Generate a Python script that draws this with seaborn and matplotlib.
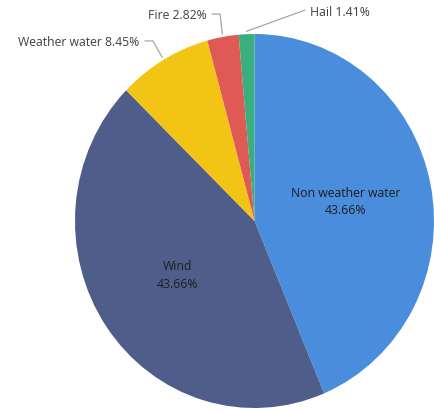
import matplotlib
matplotlib.use("Agg")
import matplotlib.pyplot as plt
import seaborn as sns
import numpy as np

# data (clockwise from 12 o'clock)
categories = ["Non weather water", "Wind", "Weather water", "Fire", "Hail"]
shares = [43.66, 43.66, 8.45, 2.82, 1.41]
colors = ["#4A8DDC", "#4F5D8A", "#F2C514", "#E05A55", "#3BAE7E"]

sns.set_theme(style="white")
plt.rcParams["font.family"] = ["Open Sans", "DejaVu Sans"]

W, H = 435, 411
fig = plt.figure(figsize=(W / 100, H / 100), dpi=100)

# pie bbox in pixels (slightly taller than wide, like the source image)
px_left, px_right, px_top, px_bottom = 75, 434, 34, 408
ax = fig.add_axes([px_left / W, (H - px_bottom) / H,
                   (px_right - px_left) / W, (px_bottom - px_top) / H])

wedges, _ = ax.pie(shares, colors=colors, startangle=90, counterclock=False,
                   wedgeprops=dict(linewidth=0))
ax.set_aspect("auto")
ax.set_xlim(-1, 1)
ax.set_ylim(-1, 1)
ax.axis("off")


def mid(w, r):
    a = np.deg2rad((w.theta1 + w.theta2) / 2)
    return r * np.cos(a), r * np.sin(a)


# inside labels for the two big slices
for w, name, v in zip(wedges[:2], categories[:2], shares[:2]):
    x, y = mid(w, 0.52)
    ax.text(x, y, f"{name}\n{v:.2f}%", ha="center", va="center",
            fontsize=8.8, color="#1E1E1E", linespacing=1.45)

# outside labels with leader lines: (text xy, ha, elbow points)
outside = {
    "Weather water": ((-0.64, 0.955), "right", [(-0.61, 0.963), (-0.566, 0.963)]),
    "Fire": ((-0.265, 1.10), "right", [(-0.237, 1.107), (-0.192, 1.107)]),
    "Hail": ((0.31, 1.115), "left", [(0.281, 1.128)]),
}
for w, name, v in zip(wedges[2:], categories[2:], shares[2:]):
    (tx, ty), ha, pts = outside[name]
    ax.text(tx, ty, f"{name} {v:.2f}%", ha=ha, va="center", fontsize=8.8,
            color="#404040", clip_on=False)
    ex, ey = mid(w, 1.015)
    xs = [p[0] for p in pts] + [ex]
    ys = [p[1] for p in pts] + [ey]
    ax.plot(xs, ys, color="#A6A6A6", linewidth=0.9, clip_on=False)

fig.savefig("out.png", dpi=100)
